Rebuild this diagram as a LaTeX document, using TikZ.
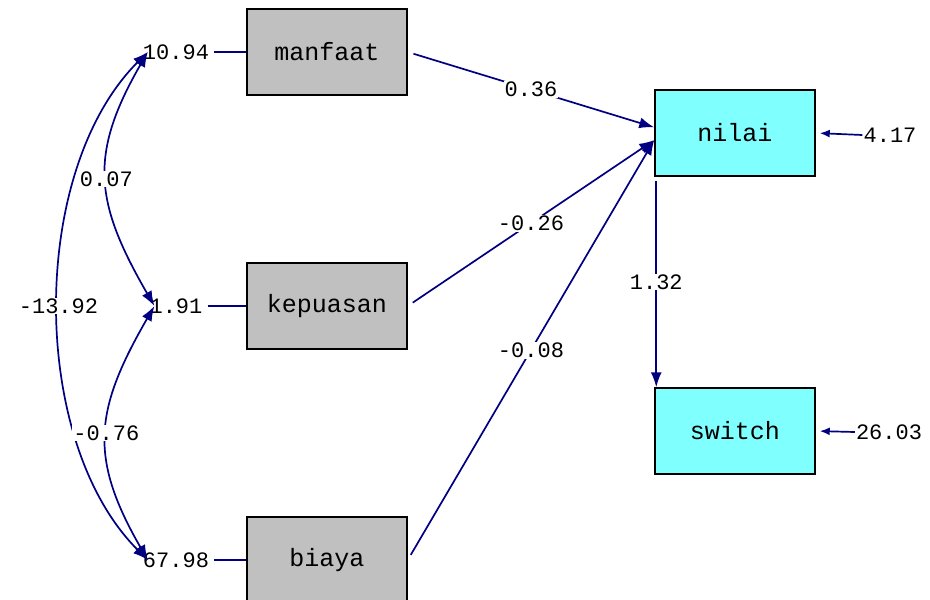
\documentclass[tikz,border=0pt]{standalone}
\usepackage{fontspec}
\setmonofont{Liberation Mono}
\usetikzlibrary{arrows.meta}
\definecolor{LinkNavy}{HTML}{000080}
\definecolor{BoxGray}{HTML}{C0C0C0}
\definecolor{BoxCyan}{HTML}{80FFFF}

\begin{document}
\begin{tikzpicture}[x=1pt,y=1pt,
          every node/.style={font=\ttfamily\fontsize{22}{22}\selectfont},
          obs/.style={draw=black, fill=BoxGray, line width=1.5pt,
            minimum width=160pt, minimum height=86pt,
            font=\ttfamily\fontsize{25}{25}\selectfont},
          endo/.style={obs, fill=BoxCyan},
          num/.style={inner sep=1pt},
          lbl/.style={fill=white, text=black, inner sep=1pt},
          ln/.style={LinkNavy, line width=1.7pt},
          ar/.style={ln, -{Latex[length=15pt,width=11pt]}, shorten <=6pt},
          res/.style={ln, -{Latex[length=10pt,width=8pt]}, shorten >=4pt},
          cov/.style={ln, {Latex[length=15pt,width=11pt]}-{Latex[length=15pt,width=11pt]}}]
        \useasboundingbox (0,0) rectangle (930,-600);
        \node[obs] (manfaat) at (327,-52) {manfaat};
        \node[obs] (kepuasan) at (327,-306) {kepuasan};
        \node[obs] (biaya) at (327,-560) {biaya};
        \node[endo] (nilai) at (735,-133) {nilai};
        \node[endo] (switch) at (735,-431) {switch};
        \node[num] (v1) at (176,-52) {10.94};
        \node[num] (v2) at (176,-306) {1.91};
        \node[num] (v3) at (176,-560) {67.98};
        \node[num] (r1) at (890,-135) {4.17};
        \node[num] (r2) at (889,-432) {26.03};
        \draw[ln, shorten <=4pt] (v1.east) -- (manfaat.west);
        \draw[ln, shorten <=4pt] (v2.east) -- (kepuasan.west);
        \draw[ln, shorten <=4pt] (v3.east) -- (biaya.west);
        \draw[cov] ([xshift=6pt]v1.west) to[out=225,in=135,looseness=0.85]
          node[lbl]{-13.92} ([xshift=6pt]v3.west);
        \draw[cov] ([xshift=6pt]v1.west) to[out=240,in=120,looseness=1.2]
          node[lbl]{0.07} ([xshift=6pt]v2.west);
        \draw[cov] ([xshift=6pt]v2.west) to[out=240,in=120,looseness=1.2]
          node[lbl]{-0.76} ([xshift=6pt]v3.west);
        \draw[ar] (manfaat.east) -- node[lbl]{0.36} (nilai.176);
        \draw[ar] (kepuasan.east) -- node[lbl]{-0.26} (nilai.185);
        \draw[ar] (biaya.east) -- node[lbl]{-0.08} (nilai.185);
        \draw[ar, shorten <=4pt] ([xshift=2pt]nilai.south west) -- node[lbl]{1.32}
          ([xshift=2pt]switch.north west);
        \draw[res] (r1.west) -- (nilai.east);
        \draw[res] (r2.west) -- (switch.east);
      \end{tikzpicture}
\end{document}
